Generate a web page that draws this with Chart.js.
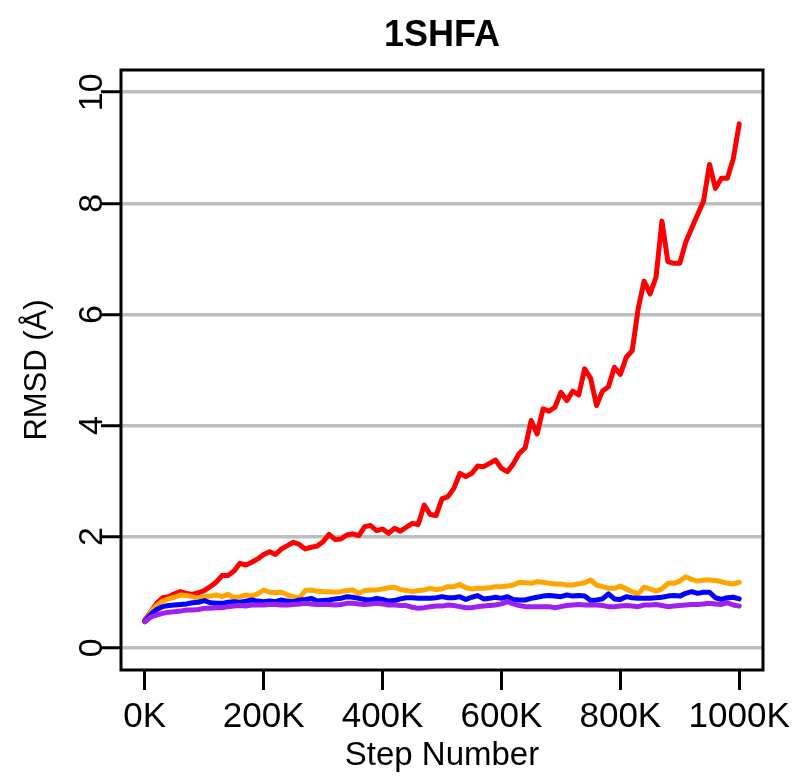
<!DOCTYPE html>
<html>
<head>
<meta charset="utf-8">
<title>1SHFA RMSD</title>
<script src="https://cdn.jsdelivr.net/npm/chart.js@4"></script>
<style>
  html, body { margin: 0; padding: 0; background: #fff; }
  #wrap { width: 793px; height: 777px; }
</style>
</head>
<body>
<div id="wrap"><canvas id="c" width="793" height="777"></canvas></div>
<script>
// Simulation steps, in thousands
const stepsK = [
  0, 10, 20, 30, 40, 50, 60, 70, 80, 90,
  100, 110, 120, 130, 140, 150, 160, 170, 180, 190,
  200, 210, 220, 230, 240, 250, 260, 270, 280, 290,
  300, 310, 320, 330, 340, 350, 360, 370, 380, 390,
  400, 410, 420, 430, 440, 450, 460, 470, 480, 490,
  500, 510, 520, 530, 540, 550, 560, 570, 580, 590,
  600, 610, 620, 630, 640, 650, 660, 670, 680, 690,
  700, 710, 720, 730, 740, 750, 760, 770, 780, 790,
  800, 810, 820, 830, 840, 850, 860, 870, 880, 890,
  900, 910, 920, 930, 940, 950, 960, 970, 980, 990,
  1000
];

// RMSD (Å) per run
const rmsdRed = [
  0.50, 0.65, 0.80, 0.90, 0.92, 0.97, 1.01, 0.98, 0.96, 0.99,
  1.03, 1.10, 1.18, 1.30, 1.30, 1.38, 1.52, 1.49, 1.54, 1.60,
  1.68, 1.73, 1.68, 1.78, 1.84, 1.90, 1.86, 1.78, 1.81, 1.83,
  1.91, 2.04, 1.95, 1.96, 2.03, 2.05, 2.02, 2.18, 2.20, 2.11,
  2.14, 2.06, 2.15, 2.10, 2.17, 2.24, 2.22, 2.57, 2.40, 2.38,
  2.68, 2.72, 2.87, 3.14, 3.08, 3.14, 3.27, 3.26, 3.32, 3.38,
  3.23, 3.17, 3.31, 3.50, 3.60, 4.09, 3.85, 4.30, 4.26, 4.33,
  4.60, 4.45, 4.62, 4.55, 5.02, 4.85, 4.36, 4.62, 4.70, 5.05,
  4.92, 5.23, 5.35, 6.10, 6.60, 6.37, 6.67, 7.68, 6.95, 6.92,
  6.92, 7.30, 7.55, 7.80, 8.04, 8.70, 8.27, 8.45, 8.45, 8.80,
  9.43
];

const rmsdOrange = [
  0.47, 0.65, 0.76, 0.84, 0.88, 0.91, 0.95, 0.94, 0.92, 0.89,
  0.92, 0.93, 0.95, 0.92, 0.96, 0.90, 0.92, 0.95, 0.93, 0.97,
  1.04, 1.00, 0.99, 1.00, 0.95, 0.92, 0.89, 1.03, 1.04, 1.02,
  1.01, 1.01, 1.00, 1.01, 1.03, 1.04, 0.98, 1.03, 1.04, 1.04,
  1.06, 1.08, 1.09, 1.05, 1.03, 1.01, 1.03, 1.04, 1.07, 1.05,
  1.06, 1.10, 1.10, 1.14, 1.08, 1.06, 1.07, 1.07, 1.08, 1.10,
  1.10, 1.11, 1.13, 1.18, 1.17, 1.16, 1.19, 1.18, 1.16, 1.15,
  1.15, 1.13, 1.13, 1.15, 1.17, 1.22, 1.13, 1.10, 1.07, 1.07,
  1.11, 1.06, 1.01, 0.97, 1.09, 1.06, 1.02, 1.06, 1.16, 1.16,
  1.20, 1.28, 1.23, 1.20, 1.22, 1.22, 1.21, 1.19, 1.16, 1.15,
  1.18
];

const rmsdBlue = [
  0.47, 0.60, 0.69, 0.74, 0.76, 0.77, 0.78, 0.79, 0.81, 0.82,
  0.85, 0.81, 0.80, 0.80, 0.82, 0.83, 0.82, 0.84, 0.86, 0.84,
  0.83, 0.84, 0.83, 0.86, 0.84, 0.83, 0.86, 0.87, 0.89, 0.84,
  0.85, 0.86, 0.88, 0.89, 0.92, 0.91, 0.89, 0.87, 0.86, 0.89,
  0.87, 0.84, 0.85, 0.88, 0.90, 0.90, 0.89, 0.89, 0.89, 0.90,
  0.92, 0.90, 0.90, 0.92, 0.87, 0.91, 0.94, 0.88, 0.89, 0.91,
  0.89, 0.92, 0.87, 0.86, 0.86, 0.89, 0.91, 0.93, 0.94, 0.93,
  0.92, 0.95, 0.93, 0.94, 0.93, 0.85, 0.86, 0.88, 0.97, 0.88,
  0.87, 0.92, 0.90, 0.89, 0.89, 0.89, 0.90, 0.91, 0.93, 0.94,
  0.93, 0.98, 1.01, 0.98, 1.00, 1.00, 0.90, 0.87, 0.90, 0.91,
  0.88
];

const rmsdPurple = [
  0.47, 0.55, 0.59, 0.62, 0.64, 0.65, 0.66, 0.68, 0.68, 0.69,
  0.71, 0.71, 0.72, 0.72, 0.74, 0.75, 0.76, 0.75, 0.77, 0.77,
  0.77, 0.78, 0.78, 0.77, 0.77, 0.78, 0.79, 0.80, 0.79, 0.78,
  0.78, 0.78, 0.77, 0.78, 0.80, 0.80, 0.79, 0.78, 0.79, 0.80,
  0.79, 0.77, 0.77, 0.76, 0.76, 0.73, 0.71, 0.72, 0.74, 0.75,
  0.75, 0.77, 0.76, 0.74, 0.72, 0.72, 0.74, 0.75, 0.76, 0.77,
  0.79, 0.83, 0.79, 0.76, 0.74, 0.74, 0.74, 0.74, 0.74, 0.72,
  0.74, 0.76, 0.77, 0.78, 0.77, 0.77, 0.77, 0.76, 0.74, 0.74,
  0.75, 0.76, 0.75, 0.74, 0.77, 0.77, 0.78, 0.76, 0.74, 0.75,
  0.76, 0.77, 0.78, 0.78, 0.79, 0.80, 0.79, 0.78, 0.81, 0.77,
  0.75
];

const xTicksK = [0, 200, 400, 600, 800, 1000];
const yTicks = [0, 2, 4, 6, 8, 10];
const chartTitle = '1SHFA';

const FONT = '"Liberation Sans", Arial, Helvetica, sans-serif';

function toPoints(values) {
  return stepsK.map((s, i) => ({ x: s, y: values[i] }));
}

function series(label, values, color, order) {
  return {
    label: label,
    data: toPoints(values),
    borderColor: color,
    backgroundColor: color,
    borderWidth: 5,
    pointRadius: 0,
    tension: 0,
    fill: false,
    borderJoinStyle: 'round',
    borderCapStyle: 'round',
    order: order
  };
}

// Plot frame, title centred over the plot, and vertical y tick labels
const frameAndLabels = {
  id: 'frameAndLabels',
  afterDraw(chart) {
    const { ctx, chartArea } = chart;
    const y = chart.scales.y;
    ctx.save();
    ctx.strokeStyle = '#000';
    ctx.lineWidth = 3;
    ctx.strokeRect(chartArea.left, chartArea.top,
                   chartArea.right - chartArea.left, chartArea.bottom - chartArea.top);

    ctx.fillStyle = '#000';
    ctx.textAlign = 'center';
    ctx.textBaseline = 'alphabetic';
    ctx.font = 'bold 36px ' + FONT;
    ctx.fillText(chartTitle, (chartArea.left + chartArea.right) / 2, 46);

    ctx.font = '34px ' + FONT;
    ctx.textBaseline = 'middle';
    yTicks.forEach(v => {
      const py = y.getPixelForValue(v);
      ctx.save();
      ctx.translate(93, py);
      ctx.rotate(-Math.PI / 2);
      ctx.fillText(String(v), 0, 0);
      ctx.restore();
    });
    ctx.restore();
  }
};

new Chart(document.getElementById('c'), {
  type: 'line',
  data: {
    datasets: [
      series('red', rmsdRed, '#ff0000', 3),
      series('orange', rmsdOrange, '#ffa500', 2),
      series('blue', rmsdBlue, '#0000ff', 1),
      series('purple', rmsdPurple, '#a020f0', 0)
    ]
  },
  options: {
    responsive: false,
    animation: false,
    devicePixelRatio: 1,
    layout: { padding: { left: 0, right: 30, top: 70, bottom: 0 } },
    plugins: {
      legend: { display: false },
      tooltip: { enabled: false },
      title: { display: false }
    },
    scales: {
      x: {
        type: 'linear',
        min: -40,
        max: 1040,
        afterBuildTicks: s => { s.ticks = xTicksK.map(v => ({ value: v })); },
        afterFit: s => { s.height = 107; s.paddingLeft = 0; s.paddingRight = 0; },
        grid: {
          drawOnChartArea: false,
          drawTicks: true,
          tickLength: 20,
          tickColor: '#000',
          tickWidth: 3
        },
        border: { display: false },
        ticks: {
          color: '#000',
          font: { family: FONT, size: 35 },
          padding: 6,
          maxRotation: 0,
          autoSkip: false,
          callback: v => v + 'K'
        },
        title: {
          display: true,
          text: 'Step Number',
          color: '#000',
          font: { family: FONT, size: 33 },
          padding: { top: 0, bottom: 1 }
        }
      },
      y: {
        min: -0.4,
        max: 10.4,
        afterBuildTicks: s => { s.ticks = yTicks.map(v => ({ value: v })); },
        afterFit: s => { s.width = 121; s.paddingTop = 0; s.paddingBottom = 0; },
        grid: {
          color: '#bebebe',
          lineWidth: 3.5,
          drawTicks: true,
          tickLength: 20,
          tickColor: '#000',
          tickWidth: 3
        },
        border: { display: false },
        ticks: { display: false },
        title: {
          display: true,
          text: 'RMSD (Å)',
          color: '#000',
          font: { family: FONT, size: 31 },
          padding: { top: 19, bottom: 0 }
        }
      }
    }
  },
  plugins: [frameAndLabels]
});
</script>
</body>
</html>
